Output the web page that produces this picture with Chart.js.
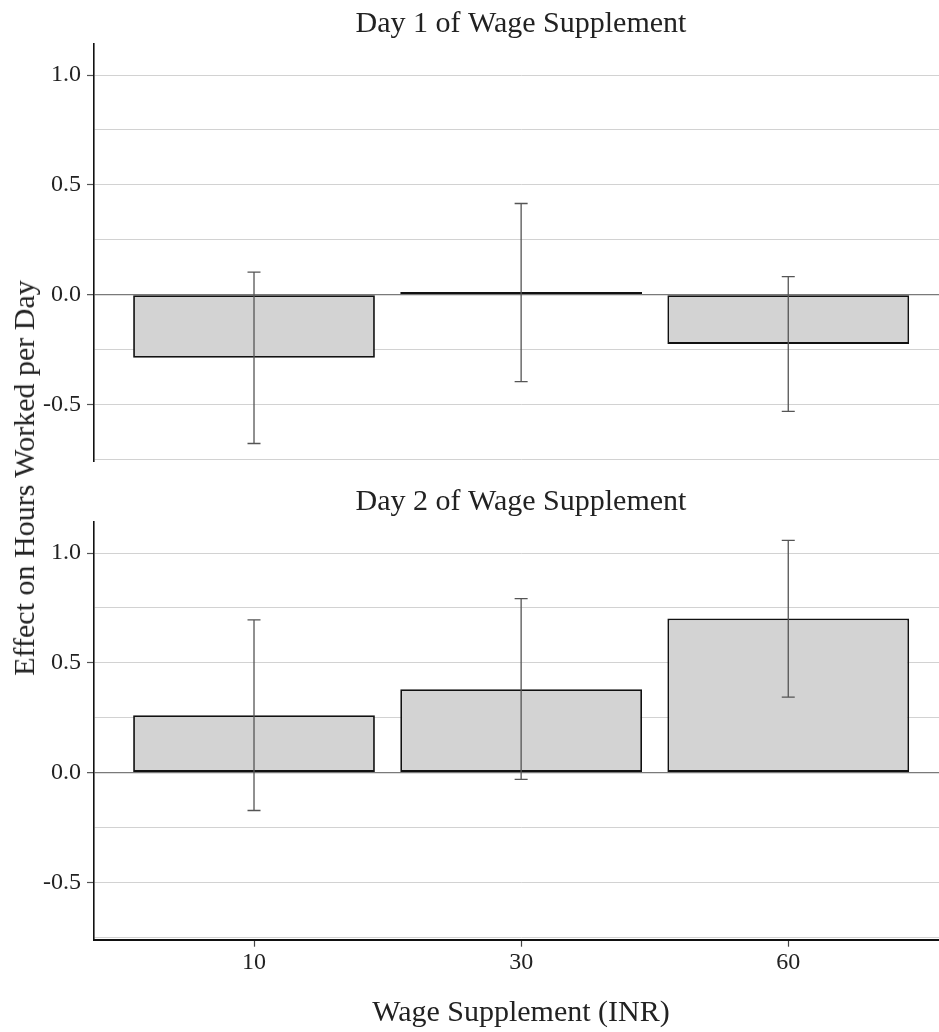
<!DOCTYPE html>
<html>
<head>
<meta charset="utf-8">
<script src="https://cdn.jsdelivr.net/npm/chart.js@4.4.1/dist/chart.umd.min.js"></script>
<style>
  html, body { margin:0; padding:0; background:#fff; width:939px; height:1032px; overflow:hidden; position:relative; }
  .panel { position:absolute; left:0; width:948px; }
  #p1 { top:0; height:470px; }
  #p2 { top:470px; height:562px; }
  #ytitle { position:absolute; left:24px; top:478px; transform:translate(-50%,-50%) rotate(-90deg);
            white-space:nowrap; font:30px 'Liberation Serif', serif; line-height:1; color:#222; }
</style>
</head>
<body>
<div class="panel" id="p1"><canvas id="c1"></canvas></div>
<div class="panel" id="p2"><canvas id="c2"></canvas></div>
<div id="ytitle">Effect on Hours Worked per Day</div>
<script>
// ---- data ----
const categories = ['10', '30', '60'];
const panelTitles = ['Day 1 of Wage Supplement', 'Day 2 of Wage Supplement'];
const xAxisTitle = 'Wage Supplement (INR)';
const yAxisTitle = 'Effect on Hours Worked per Day';
const day1Effect = [-0.288, 0.011, -0.225];
const day1Lower  = [-0.679, -0.397, -0.533];
const day1Upper  = [0.102, 0.415, 0.082];
const day2Effect = [0.261, 0.380, 0.702];
const day2Lower  = [-0.173, -0.031, 0.344];
const day2Upper  = [0.696, 0.793, 1.058];
const yTickValues = [-0.75, -0.5, -0.25, 0, 0.25, 0.5, 0.75, 1.0];
const yMin = -0.762, yMax = 1.142;
const xMin = -0.599, xMax = 2.598;

const FONT = "'Liberation Serif', serif";
const TEXT = '#222';

const errorBarPlugin = {
  id: 'errorBars',
  afterDatasetsDraw(chart, args, opts) {
    const ctx = chart.ctx, xs = chart.scales.x, ys = chart.scales.y;
    ctx.save();
    ctx.strokeStyle = opts.color;
    ctx.lineWidth = opts.width;
    opts.lower.forEach((lo, i) => {
      const px = xs.getPixelForValue(i);
      const yl = ys.getPixelForValue(lo);
      const yh = ys.getPixelForValue(opts.upper[i]);
      ctx.beginPath();
      ctx.moveTo(px, yl); ctx.lineTo(px, yh);
      ctx.moveTo(px - opts.cap, yl); ctx.lineTo(px + opts.cap, yl);
      ctx.moveTo(px - opts.cap, yh); ctx.lineTo(px + opts.cap, yh);
      ctx.stroke();
    });
    ctx.restore();
  }
};

function makePanel(canvasId, title, effect, lower, upper, bottom) {
  const data = categories.map((c, i) => ({ x: i, y: effect[i] }));
  return new Chart(document.getElementById(canvasId), {
    type: 'bar',
    data: {
      datasets: [{
        data: data,
        backgroundColor: c => (c.raw && Math.abs(c.raw.y) < 0.02 ? '#111' : '#d3d3d3'),
        borderColor: '#111',
        borderWidth: 1.8,
        borderSkipped: false,
        barPercentage: 0.905,
        categoryPercentage: 1.0
      }]
    },
    options: {
      responsive: true,
      maintainAspectRatio: false,
      animation: false,
      devicePixelRatio: 1,
      layout: { padding: { top: 0, left: 0, right: 0, bottom: bottom ? 0 : 8.3 } },
      plugins: {
        legend: { display: false },
        tooltip: { enabled: false },
        title: {
          display: true, text: title, fullSize: false, color: TEXT,
          font: { family: FONT, size: 30, weight: 'normal', lineHeight: 1.2 },
          padding: bottom ? { top: 14, bottom: 2 } : { top: 6, bottom: 2 }
        },
        errorBars: { lower: lower, upper: upper, color: '#555', width: 1.3, cap: 6.5 }
      },
      scales: {
        x: {
          type: 'linear', min: xMin, max: xMax, offset: false,
          display: bottom,
          afterBuildTicks: s => { s.ticks = categories.map((c, i) => ({ value: i })); },
          afterFit: s => { if (bottom) { s.height = 92.3; } s.paddingLeft = 0; s.paddingRight = 0; },
          ticks: {
            callback: v => categories[v],
            color: TEXT, padding: 2, maxRotation: 0, autoSkip: false,
            font: { family: FONT, size: 24 }
          },
          grid: { display: true, offset: false, drawOnChartArea: false, drawTicks: true, tickLength: 7, tickColor: '#444', tickWidth: 1.2 },
          border: { display: true, color: '#111', width: 2 },
          title: {
            display: true, text: xAxisTitle, color: TEXT,
            font: { family: FONT, size: 30, lineHeight: 1.2 },
            padding: { top: 0, bottom: 1 }
          }
        },
        y: {
          type: 'linear', min: yMin, max: yMax,
          afterBuildTicks: s => { s.ticks = yTickValues.map(v => ({ value: v })); },
          afterFit: s => { s.width = 94; s.paddingTop = 0; s.paddingBottom = 0; },
          ticks: {
            callback: v => (Math.abs(v % 0.5) < 1e-9 ? v.toFixed(1) : ''),
            color: TEXT, padding: 6,
            font: { family: FONT, size: 24 }
          },
          grid: {
            drawTicks: true, tickLength: 7,
            color: c => (c.tick && c.tick.value === 0 ? '#7a7a7a' : '#d2d2d2'),
            lineWidth: c => (c.tick && c.tick.value === 0 ? 1.3 : 1),
            tickColor: c => (c.tick && Math.abs(c.tick.value % 0.5) < 1e-9 ? '#555' : 'rgba(0,0,0,0)'),
            tickWidth: 1.2
          },
          border: { display: true, color: '#111', width: 1.6 }
        }
      }
    },
    plugins: [errorBarPlugin]
  });
}

document.getElementById('ytitle').textContent = yAxisTitle;
makePanel('c1', panelTitles[0], day1Effect, day1Lower, day1Upper, false);
makePanel('c2', panelTitles[1], day2Effect, day2Lower, day2Upper, true);
</script>
</body>
</html>
